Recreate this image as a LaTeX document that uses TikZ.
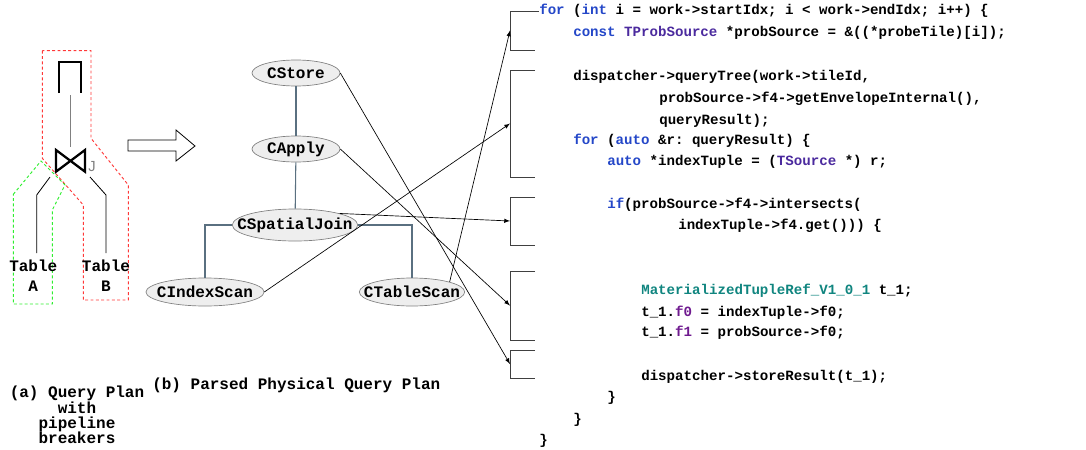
\documentclass[tikz,border=0pt]{standalone}
\usepackage{fontspec}
\setmonofont{Liberation Mono}
\setsansfont{Liberation Sans}
\usepackage{xcolor}
\usetikzlibrary{shapes.geometric,arrows.meta}

\definecolor{kwblue}{HTML}{2447C8}
\definecolor{typurple}{HTML}{4B2A9E}
\definecolor{tlteal}{HTML}{10857F}
\definecolor{fdpurple}{HTML}{6F1A8F}
\definecolor{edgegray}{HTML}{5A7080}
\definecolor{opfill}{HTML}{EEEEEE}
\definecolor{brkred}{HTML}{FF3838}
\definecolor{brkgreen}{HTML}{30EE30}

\newcommand{\kw}[1]{\textcolor{kwblue}{#1}}
\newcommand{\ty}[1]{\textcolor{typurple}{#1}}
\newcommand{\tl}[1]{\textcolor{tlteal}{#1}}
\newcommand{\fd}[1]{\textcolor{fdpurple}{#1}}
\newcommand{\opname}[1]{\makebox[0pt]{#1}}

\tikzset{
  code/.style={anchor=west, inner sep=0pt, font=\ttfamily\bfseries\fontsize{10.6}{12}\selectfont},
  op/.style={ellipse, draw=gray, fill=opfill, inner sep=0pt, line width=0.5pt,
    font=\ttfamily\bfseries\fontsize{12}{14}\selectfont},
  tree/.style={draw=edgegray, line width=0.8pt},
  brk/.style={draw=black!75, line width=0.6pt},
  link/.style={-latex, line width=0.5pt},
  pipe/.style={dash pattern=on 2.2pt off 1.8pt, line width=0.7pt},
  caption/.style={inner sep=0pt, font=\ttfamily\bfseries\fontsize{12}{11.5}\selectfont},
}

\begin{document}
\begin{tikzpicture}[x=0.75pt,y=-0.75pt]
  \useasboundingbox (0,0) rectangle (1086,450);

  % (a) query plan with pipeline breakers
  \draw[pipe, brkred] (42.3,50.7) -- (42.3,158.3) -- (83.3,205) -- (83.3,300)
    -- (128.3,300) -- (128.3,185) -- (91,138.3) -- (91,50.7) -- cycle;
  \draw[pipe, brkgreen] (13.3,194.3) -- (41,161) -- (65,185) -- (52.3,210)
    -- (52.3,304) -- (13.3,304) -- cycle;
  \draw[line width=1.5pt] (59.3,93) -- (59.3,61.7) -- (81,61.7) -- (81,93);
  \draw[gray, line width=0.8pt] (70.7,95) -- (70.7,147);
  \draw[line width=1.7pt] (56,150) -- (56,171.7) -- (85,150) -- (85,171.7) -- cycle;
  \node[text=gray, inner sep=0pt, font=\sffamily\fontsize{11}{11}\selectfont] (jlab) at (92,167) {J};
  \node[caption, align=center, font=\ttfamily\bfseries\fontsize{12}{15}\selectfont] (tabA) at (33.3,276) {Table\\A};
  \node[caption, align=center, font=\ttfamily\bfseries\fontsize{12}{15}\selectfont] (tabB) at (106,276) {Table\\B};
  \draw[line width=0.6pt] (50,177) -- (36.7,195) -- (36.7,253);
  \draw[line width=0.6pt] (90,177) -- (106,195) -- (106,253);

  % hollow arrow
  \draw[line width=0.6pt] (128,140) -- (176,140) -- (176,130) -- (195,146)
    -- (176,161) -- (176,151) -- (128,151) -- cycle;

  % (b) parsed physical plan
  \node[op, minimum width=66pt, minimum height=19.5pt] (store) at (296,73) {\opname{CStore}};
  \node[op, minimum width=66pt, minimum height=19.5pt] (apply) at (296,149) {\opname{CApply}};
  \node[op, minimum width=94pt, minimum height=24pt] (sjoin) at (295,225) {\opname{CSpatialJoin}};
  \node[op, minimum width=88.5pt, minimum height=21pt] (iscan) at (205,292) {\opname{CIndexScan}};
  \node[op, minimum width=79pt, minimum height=21pt] (tscan) at (412,292) {\opname{CTableScan}};
  \draw[tree] (store) -- (apply);
  \draw[tree] (apply) -- (sjoin);
  \draw[tree] (sjoin.west) -| (iscan.north);
  \draw[tree] (sjoin.east) -| (tscan.north);

  % captions
  \node[caption, align=center] (capa) at (77,415) {(a) Query Plan\\with\\pipeline\\breakers};
  \node[caption, anchor=west] (capb) at (152,385) {(b) Parsed Physical Query Plan};

  % generated code
  \node[code] (l1) at (539,11) {\kw{for} (\kw{int} i = work->startIdx; i < work->endIdx; i++) \{};
  \node[code] (l2) at (573,33) {\kw{const} \ty{TProbSource} *probSource = \&((*probeTile)[i]);};
  \node[code] (l3) at (573,77) {dispatcher->queryTree(work->tileId,};
  \node[code] (l4) at (659,99) {probSource->f4->getEnvelopeInternal(),};
  \node[code] (l5) at (659,121) {queryResult);};
  \node[code] (l6) at (573,141) {\kw{for} (\kw{auto} \&r: queryResult) \{};
  \node[code] (l7) at (607,162) {\kw{auto} *indexTuple = (\ty{TSource} *) r;};
  \node[code] (l8) at (607,205) {\kw{if}(probSource->f4->intersects(};
  \node[code] (l9) at (678,226) {indexTuple->f4.get())) \{};
  \node[code] (l10) at (641,291) {\tl{MaterializedTupleRef\_V1\_0\_1} t\_1;};
  \node[code] (l11) at (641,313) {t\_1.\fd{f0} = indexTuple->f0;};
  \node[code] (l12) at (641,333) {t\_1.\fd{f1} = probSource->f0;};
  \node[code] (l13) at (641,377) {dispatcher->storeResult(t\_1);};
  \node[code] (l14) at (607,398) {\}};
  \node[code] (l15) at (573,420) {\}};
  \node[code] (l16) at (539,441) {\}};

  % brackets round code blocks
  \draw[brk] (l1.west) -- (510,11) -- (510,50) -- (535,50);
  \draw[brk] (535,70) -- (510,70) -- (510,177) -- (535,177);
  \draw[brk] (535,197) -- (510,197) -- (510,245) -- (535,245);
  \draw[brk] (535,271) -- (510,271) -- (510,340) -- (535,340);
  \draw[brk] (535,350) -- (510,350) -- (510,378) -- (535,378);
  \coordinate (b1) at (510,30.5);
  \coordinate (b2) at (510,123.5);
  \coordinate (b3) at (510,221);
  \coordinate (b4) at (510,305.5);
  \coordinate (b5) at (510,364);

  % operator to code
  \draw[link] (store.east) -- (b5);
  \draw[link] (apply.east) -- (b4);
  \draw[link] (sjoin.north east) -- (b3);
  \draw[link] (iscan.east) -- (b2);
  \draw[link] (tscan.15) -- (b1);
\end{tikzpicture}
\end{document}
